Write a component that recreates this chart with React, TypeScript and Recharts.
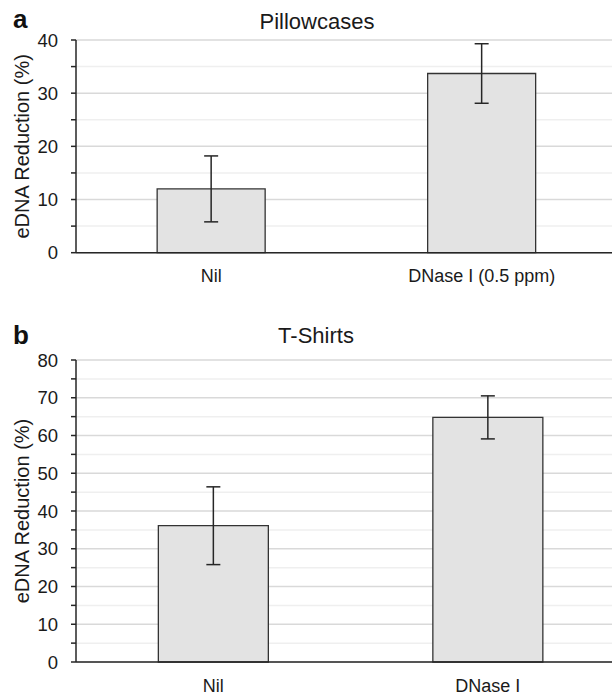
import React from 'react';
import { BarChart, Bar, XAxis, YAxis, CartesianGrid, ErrorBar } from 'recharts';

// panel a - pillowcases
const categoriesA = ['Nil', 'DNase I (0.5 ppm)'];
const valuesA = [12.0, 33.7];
const errorsA = [6.2, 5.6];
const ticksA = [0, 5, 10, 15, 20, 25, 30, 35, 40];

// panel b - t-shirts
const categoriesB = ['Nil', 'DNase I'];
const valuesB = [36.1, 64.8];
const errorsB = [10.3, 5.7];
const ticksB = [0, 5, 10, 15, 20, 25, 30, 35, 40, 45, 50, 55, 60, 65, 70, 75, 80];

const FONT = '"Liberation Sans", Arial, sans-serif';

const gridLine = (props: any) => {
  const { x1, x2, y1, y2, index } = props;
  const major = index % 2 === 0;
  return (
    <line
      key={`g-${index}`}
      x1={x1}
      x2={x2}
      y1={y1}
      y2={y2}
      stroke={major ? '#d9d9d9' : '#efefef'}
      strokeWidth={1.5}
    />
  );
};

const yLabel = (cx: number) => (props: any) => {
  const { viewBox } = props;
  const cy = viewBox.y + viewBox.height / 2;
  return (
    <text
      x={cx}
      y={cy}
      transform={`rotate(-90, ${cx}, ${cy})`}
      textAnchor="middle"
      dominantBaseline="central"
      fontSize={20}
      fontFamily={FONT}
      fill="#1a1a1a"
    >
      eDNA Reduction (%)
    </text>
  );
};

interface PanelProps {
  categories: string[];
  values: number[];
  errors: number[];
  ticks: number[];
  max: number;
  height: number;
  marginTop: number;
  marginBottom: number;
  axisHeight: number;
  width: number;
  marginRight: number;
}

const Panel: React.FC<PanelProps> = ({
  categories, values, errors, ticks, max, height, marginTop, marginBottom, axisHeight, width, marginRight,
}) => {
  const data = categories.map((name, i) => ({ name, value: values[i], err: errors[i] }));
  return (
    <BarChart
      width={width}
      height={height}
      data={data}
      margin={{ top: marginTop, right: marginRight, bottom: marginBottom, left: 16 }}
      barCategoryGap="30%"
    >
      <CartesianGrid vertical={false} horizontal={gridLine} />
      <XAxis
        dataKey="name"
        height={axisHeight}
        tickLine={false}
        tickSize={0}
        tickMargin={17}
        axisLine={{ stroke: '#262626', strokeWidth: 1.5 }}
        tick={{ fontSize: 18, fontFamily: FONT, fill: '#1a1a1a' }}
      />
      <YAxis
        width={60}
        domain={[0, max]}
        ticks={ticks}
        interval={0}
        tickSize={5}
        tickMargin={13}
        tickFormatter={(v: number) => (v % 10 === 0 ? String(v) : '')}
        axisLine={{ stroke: '#262626', strokeWidth: 1.5 }}
        tickLine={{ stroke: '#262626', strokeWidth: 1.5 }}
        tick={{ fontSize: 18.5, fontFamily: FONT, fill: '#1a1a1a' }}
        label={yLabel(22)}
      />
      <Bar dataKey="value" fill="#e3e3e3" stroke="#333333" strokeWidth={1.3} isAnimationActive={false}>
        <ErrorBar dataKey="err" width={7} stroke="#262626" strokeWidth={1.5} direction="y" />
      </Bar>
    </BarChart>
  );
};

const App: React.FC = () => {
  return (
    <div
      style={{
        position: 'absolute',
        left: 0,
        top: 0,
        width: 612,
        height: 695,
        overflow: 'hidden',
        background: '#fff',
        fontFamily: FONT,
      }}
    >
      <div style={{ position: 'absolute', left: 0, top: 0 }}>
        <Panel
          categories={categoriesA}
          values={valuesA}
          errors={errorsA}
          ticks={ticksA}
          max={40}
          width={640}
          marginRight={23}
          height={300}
          marginTop={40}
          axisHeight={40}
          marginBottom={7.3}
        />
      </div>
      <div style={{ position: 'absolute', left: 0, top: 300 }}>
        <Panel
          categories={categoriesB}
          values={valuesB}
          errors={errorsB}
          ticks={ticksB}
          max={80}
          width={650}
          marginRight={25}
          height={395}
          marginTop={60}
          axisHeight={30}
          marginBottom={3}
        />
      </div>
      <div style={{ position: 'absolute', left: 13, top: 4, fontSize: 26, fontWeight: 'bold', color: '#111' }}>a</div>
      <div style={{ position: 'absolute', left: 13, top: 320, fontSize: 26, fontWeight: 'bold', color: '#111' }}>b</div>
      <div style={{ position: 'absolute', left: 0, width: 634, top: 9, textAlign: 'center', fontSize: 22, color: '#1a1a1a' }}>
        Pillowcases
      </div>
      <div style={{ position: 'absolute', left: 0, width: 632, top: 323, textAlign: 'center', fontSize: 22, color: '#1a1a1a' }}>
        T-Shirts
      </div>
    </div>
  );
};

export default App;
